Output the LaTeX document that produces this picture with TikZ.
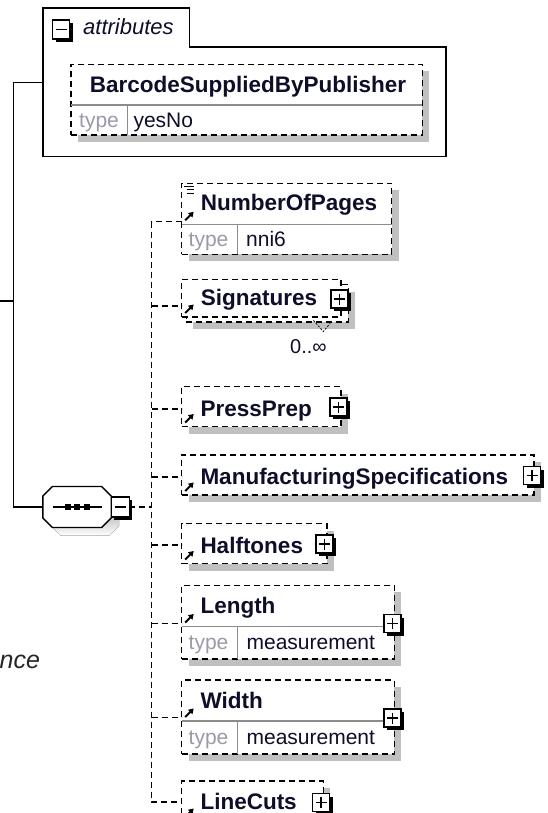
\documentclass[tikz,border=0pt]{standalone}
\usepackage{fontspec}
\setmainfont{Liberation Sans}
\usetikzlibrary{shadows,arrows.meta}
\definecolor{shade}{HTML}{C0C0C0}
\definecolor{ink}{HTML}{0E0E2A}
\definecolor{typegray}{HTML}{9A9AA8}
\definecolor{divgray}{HTML}{8C8C8C}
\tikzset{
  solidline/.style={line width=1.6pt, black},
  dashline/.style={line width=1.5pt, black, dash pattern=on 6pt off 4pt},
  elembox/.style={draw, line width=1.5pt, dash pattern=on 6pt off 4pt, fill=white, inner sep=0pt, outer sep=0pt, anchor=north west,
    drop shadow={shadow xshift=7pt, shadow yshift=-7pt, fill=shade, opacity=1}},
  plainbox/.style={draw, line width=1.5pt, dash pattern=on 6pt off 4pt, fill=white, inner sep=0pt, outer sep=0pt, anchor=north west},
  expbox/.style={draw, fill=white, line width=1.2pt, minimum width=16pt, minimum height=17pt, inner sep=0pt, outer sep=0pt},
  elname/.style={font=\fontsize{22.5}{26}\selectfont\bfseries, text=ink, anchor=base west, inner sep=0pt, text depth=0pt},
  typelabel/.style={font=\fontsize{21}{25}\selectfont, text=typegray, anchor=base west, inner sep=0pt},
  typeval/.style={font=\fontsize{21}{25}\selectfont, text=ink, anchor=base west, inner sep=0pt},
  divider/.style={line width=1.2pt, divgray},
  refarrow/.style={line width=2pt, -{Triangle[length=5pt,width=6pt]}},
  signline/.style={line width=1.4pt, black},
}
% expand/collapse box: #1 name, #2 x, #3 y (centre), #4 half width, #5 half height
\newcommand\expbox[5]{%
  \fill[black] (#2-#4+3,#3-#5+3) rectangle (#2+#4+3,#3+#5+3);
  \node[expbox, minimum width=2*#4 pt, minimum height=2*#5 pt] (#1) at (#2,#3) {};}
\newcommand\plusbox[3]{%
  \expbox{#1}{#2}{#3}{8.5}{9}
  \draw[signline] (#1.center) ++(-5.5,0) -- ++(11,0) (#1.center) ++(0,-5.5) -- ++(0,11);}
\newcommand\refmark[2]{\draw[refarrow] (#1+3.5,#2-4) -- (#1+12,#2-12.5);}
\begin{document}
\begin{tikzpicture}[x=1pt,y=-1pt]
\useasboundingbox (0,0) rectangle (548,813);
\fill[white] (0,0) rectangle (548,813);
\clip (0,0) rectangle (548,813);

% ---------- attributes ----------
\draw[solidline, fill=white] (42.7,8.3) -- (189.3,8.3) -- (189.3,47.3) -- (445.7,47.3) -- (445.7,156.7) -- (42.7,156.7) -- cycle;
\expbox{attrminus}{61}{29.5}{8.5}{9.5}
\draw[signline] (attrminus.center) ++(-5.5,0) -- ++(11,0);
\node[font=\fontsize{22}{26}\selectfont\itshape, text=ink, anchor=base west, inner sep=0pt] (attrlabel) at (83,35) {attributes};
\node[elembox, minimum width=351.3pt, minimum height=70.7pt] (barcode) at (71,64.3) {};
\draw[divider] (71,105) -- (422.3,105) (127.7,105) -- (127.7,135);
\node[elname, anchor=base] (barcodename) at (248,92.3) {BarcodeSuppliedByPublisher};
\node[typelabel] at (79,127.3) {type};
\node[typeval] at (133.3,127.3) {yesNo};

% ---------- sequence ----------
\coordinate (attrL) at (42.7,82.7);
\coordinate (trunk) at (13.3,301);
\coordinate (origin) at (0,301);
\node[minimum width=68.4pt, minimum height=41pt, inner sep=0pt, outer sep=0pt] (seq) at (77,507) {};
\def\octpath{(-34.2,-11) -- (-24.7,-20.5) -- (24.7,-20.5) -- (34.2,-11) -- (34.2,11) -- (24.7,20.5) -- (-24.7,20.5) -- (-34.2,11) -- cycle}
\fill[shade, shift={(85,515)}] \octpath;
\draw[line width=1.4pt, fill=white, shift={(77,507)}] \octpath;
\draw[line width=1.4pt] (52.7,507) -- (101.7,507);
\foreach \q in {67.8,77.2,86.8} \fill (\q-2.8,504.2) rectangle (\q+2.8,509.8);
\expbox{seqminus}{120.3}{507}{9}{10}
\draw[signline] (seqminus.center) ++(-5.5,0) -- ++(11,0);

\draw[solidline] (attrL) -| (trunk) |- (seq.west);
\draw[solidline] (origin) -- (trunk);

\node[font=\fontsize{25}{29}\selectfont\itshape, text=black!85, anchor=base west, inner sep=0pt] (nce) at (-0.5,668.3) {nce};

% ---------- children ----------
% NumberOfPages
\node[elembox, minimum width=210pt, minimum height=71pt] (nop) at (181.7,183.3) {};
\draw[divider] (181.7,224.3) -- (391.7,224.3) (237.5,224.3) -- (237.5,254.3);
\draw[line width=1.2pt] (184,186.5) -- (194,186.5) (186.5,189.8) -- (194,189.8) (186.5,193.1) -- (194,193.1);
\refmark{181.7}{224.3}
\node[elname] at (200.7,210.3) {NumberOfPages};
\node[typelabel] at (188.5,246.5) {type};
\node[typeval] at (246,246.5) {nni6};
\coordinate (cnop) at (181.7,221.5);

% Signatures (multiple occurrence)
\node[elembox, minimum width=162pt, minimum height=37.5pt] (sigback) at (186.3,284.5) {};
\node[plainbox, minimum width=159.3pt, minimum height=37.7pt] (sig) at (181.7,279.3) {};
\refmark{181.7}{317}
\node[elname] at (200.7,305) {Signatures};
\plusbox{sigplus}{339.5}{299}
\draw[line width=0.8pt, dash pattern=on 2pt off 1.5pt] (313.5,320.5) -- (323.3,331.5) -- (330,323.5);
\node[font=\fontsize{20}{24}\selectfont, text=ink, anchor=base west, inner sep=0pt] (sigocc) at (290,353.3) {0..∞};
\coordinate (csig) at (181.7,306);

% PressPrep
\node[elembox, minimum width=159.1pt, minimum height=40pt] (pp) at (181.7,386.5) {};
\refmark{181.7}{426.5}
\node[elname] at (200.3,416) {PressPrep};
\plusbox{ppplus}{338.5}{407}
\coordinate (cpp) at (181.7,409);

% ManufacturingSpecifications
\node[elembox, minimum width=352.3pt, minimum height=40pt] (ms) at (181.7,455) {};
\refmark{181.7}{495}
\node[elname] at (200.3,484.5) {ManufacturingSpecifications};
\plusbox{msplus}{532}{475.5}
\coordinate (cms) at (181.7,477);

% Halftones
\node[elembox, minimum width=145.1pt, minimum height=40pt] (ht) at (181.7,523.5) {};
\refmark{181.7}{563.5}
\node[elname] at (200.3,553) {Halftones};
\plusbox{htplus}{324.5}{544}
\coordinate (cht) at (181.7,545.2);

% Length
\node[elembox, minimum width=212.6pt, minimum height=73.4pt] (len) at (181.7,585.4) {};
\draw[divider] (181.7,626.5) -- (394.3,626.5) (237.7,626.5) -- (237.7,658.8);
\refmark{181.7}{626.5}
\node[elname] at (200.3,613.4) {Length};
\node[typelabel] at (188.5,649.5) {type};
\node[typeval] at (246.4,649.5) {measurement};
\plusbox{lenplus}{392.5}{623.5}
\coordinate (clen) at (181.7,623.4);

% Width
\node[elembox, minimum width=212.6pt, minimum height=74pt] (wid) at (181.7,680) {};
\draw[divider] (181.7,721) -- (394.3,721) (237.7,721) -- (237.7,754);
\refmark{181.7}{721}
\node[elname] at (200.3,708.4) {Width};
\node[typelabel] at (188.5,744.5) {type};
\node[typeval] at (246.4,744.5) {measurement};
\plusbox{widplus}{392.5}{718}
\coordinate (cwid) at (181.7,717.5);

% LineCuts
\node[elembox, minimum width=141.6pt, minimum height=40pt] (lc) at (181.7,781) {};
\refmark{181.7}{821}
\node[elname] at (200.3,809.5) {LineCuts};
\plusbox{lcplus}{321}{802.5}
\coordinate (clc) at (181.7,802);

% ---------- connectors ----------
\coordinate (spine) at (151.7,507);
\draw[dashline] (seqminus.east) -- (spine);
\draw[dashline] (cnop) -| (spine) |- (clc);
\foreach \c in {csig,cpp,cms,cht,clen,cwid} \draw[dashline] (spine |- \c) -- (\c);
\end{tikzpicture}
\end{document}
